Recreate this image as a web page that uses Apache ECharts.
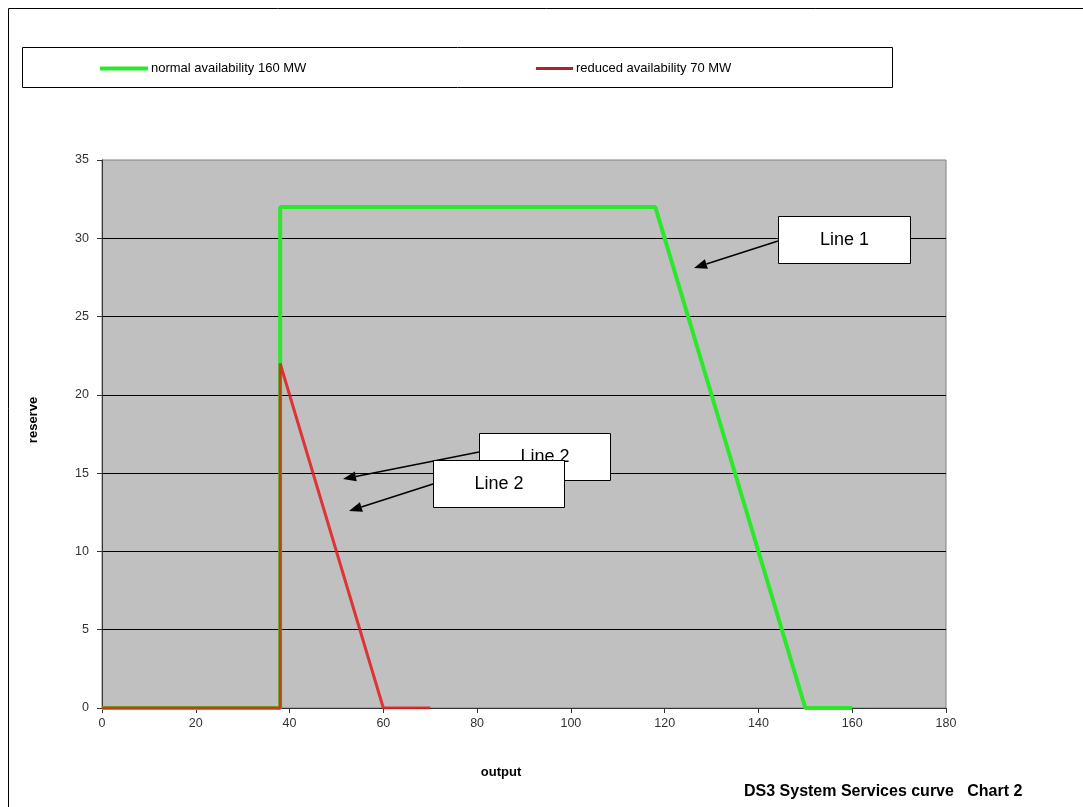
<!DOCTYPE html>
<html><head><meta charset="utf-8">
<script src="https://cdn.jsdelivr.net/npm/echarts@6/dist/echarts.min.js"></script>
<style>html,body{margin:0;padding:0;background:#fff}#c{width:1083px;height:807px}</style>
</head><body><div id="c"></div>
<script>
const normalName = 'normal availability 160 MW';
const reducedName = 'reduced availability 70 MW';
const normalOutput = [0, 38, 38, 118, 150, 160];
const normalReserve = [0, 0, 32, 32, 0, 0];
const reducedOutput = [0, 38, 38, 60, 70];
const reducedReserve = [0, 0, 22, 0, 0];
const xTicks = {min: 0, max: 180, interval: 20};
const yTicks = {min: 0, max: 35, interval: 5};

const zip = (a, b) => a.map((v, i) => [v, b[i]]);
const SANS = '"Liberation Sans", Arial, sans-serif';

function arrow(x1, y1, x2, y2) {
  const ang = Math.atan2(y2 - y1, x2 - x1);
  const L = 13, W = 5;
  const bx = x2 - L * Math.cos(ang), by = y2 - L * Math.sin(ang);
  const px = -Math.sin(ang) * W, py = Math.cos(ang) * W;
  return [
    {type: 'line', z: 100, shape: {x1: x1, y1: y1, x2: bx, y2: by}, style: {stroke: '#000', lineWidth: 1.5}},
    {type: 'polygon', z: 100, shape: {points: [[x2, y2], [bx + px, by + py], [bx - px, by - py]]}, style: {fill: '#000'}}
  ];
}
function box(x, y, w, h, label, z) {
  return [
    {type: 'rect', z: z, shape: {x: x, y: y, width: w, height: h}, style: {fill: '#fff', stroke: '#000', lineWidth: 1}},
    {type: 'text', z: z, x: x + w / 2, y: y + h / 2, style: {text: label, fill: '#000', font: '18px ' + SANS, align: 'center', verticalAlign: 'middle'}}
  ];
}

const chart = echarts.init(document.getElementById('c'));
const graphics = [].concat(
  [{type: 'rect', z: -10, shape: {x: 8.5, y: 8.5, width: 1100, height: 820}, style: {fill: 'none', stroke: '#000', lineWidth: 1}}],
  [{type: 'rect', z: -5, shape: {x: 22.5, y: 47.5, width: 870, height: 40}, style: {fill: '#fff', stroke: '#000', lineWidth: 1}}],
  box(479.5, 433.5, 131, 47, 'Line 2', 100),
  arrow(479, 452, 343, 479),
  arrow(433, 484, 349, 511),
  box(433.5, 460.5, 131, 47, 'Line 2', 101),
  box(778.5, 216.5, 132, 47, 'Line 1', 100),
  arrow(778, 241, 694, 268)
);

chart.setOption({
  animation: false,
  backgroundColor: '#fff',
  title: {
    text: 'DS3 System Services curve   Chart 2',
    left: 739, top: 779,
    textStyle: {fontFamily: SANS, fontWeight: 'bold', fontSize: 16, color: '#000'}
  },
  legend: [
    {data: [normalName], left: 100, top: 62, padding: 0, itemWidth: 48, itemHeight: 4, icon: 'rect', itemGap: 0,
     textStyle: {fontFamily: SANS, fontSize: 13, color: '#000', padding: [0, 0, 0, -2]}},
    {data: [reducedName], left: 536, top: 62, padding: 0, itemWidth: 37, itemHeight: 3, icon: 'rect', itemGap: 0,
     textStyle: {fontFamily: SANS, fontSize: 13, color: '#000', padding: [0, 0, 0, -2]}}
  ],
  grid: {left: 102, right: 137, top: 160, bottom: 99, show: true, backgroundColor: '#c0c0c0', borderWidth: 1, borderColor: '#808080'},
  xAxis: {
    type: 'value', min: xTicks.min, max: xTicks.max, interval: xTicks.interval,
    name: 'output', nameLocation: 'middle', nameGap: 58,
    nameTextStyle: {fontFamily: SANS, fontWeight: 'bold', fontSize: 13, color: '#000', padding: [0, 46, 0, 0]},
    axisLine: {show: true, lineStyle: {color: '#333', width: 1}},
    axisTick: {show: true, inside: false, length: 5, lineStyle: {color: '#333'}},
    axisLabel: {fontFamily: SANS, fontSize: 12.5, color: '#333', margin: 9},
    splitLine: {show: false}
  },
  yAxis: {
    type: 'value', min: yTicks.min, max: yTicks.max, interval: yTicks.interval,
    name: 'reserve', nameLocation: 'middle', nameGap: 62, nameRotate: 90,
    nameTextStyle: {fontFamily: SANS, fontWeight: 'bold', fontSize: 13, color: '#000', padding: [0, 0, 0, 28]},
    axisLine: {show: true, lineStyle: {color: '#333', width: 1}},
    axisTick: {show: true, inside: false, length: 5, lineStyle: {color: '#333'}},
    axisLabel: {fontFamily: SANS, fontSize: 12.5, color: '#333', margin: 13},
    splitLine: {show: true, showMaxLine: false, lineStyle: {color: '#000', width: 1}}
  },
  series: [
    {name: normalName, type: 'line', data: zip(normalOutput, normalReserve), symbol: 'none',
     lineStyle: {color: '#2be82b', width: 4}, itemStyle: {color: '#2be82b'}, z: 3},
    {name: reducedName, type: 'line', data: zip(reducedOutput, reducedReserve), symbol: 'none',
     lineStyle: {color: '#e01c1c', width: 3, opacity: 0.85}, itemStyle: {color: '#b0202a'}, z: 4}
  ],
  graphic: graphics
});
</script>
</body></html>
